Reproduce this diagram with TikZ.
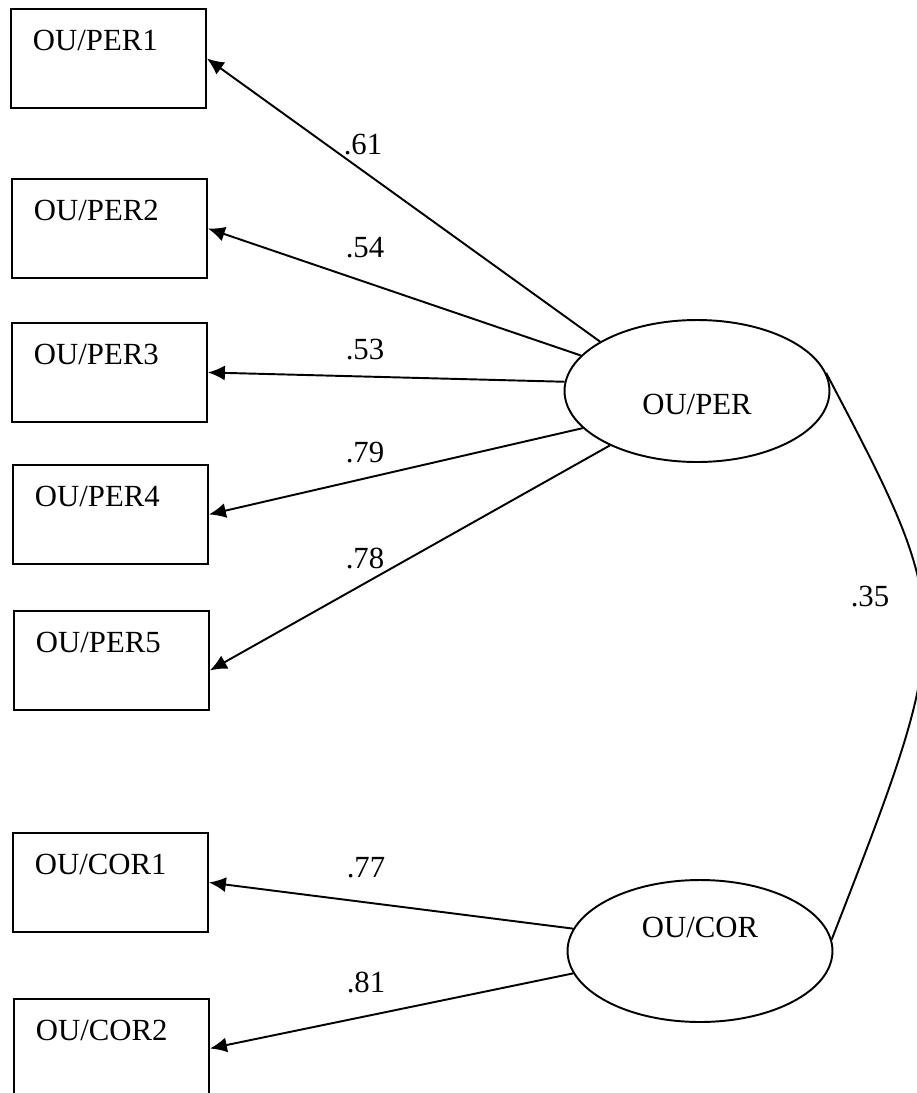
\documentclass[tikz,border=0pt]{standalone}
\usepackage{fontspec}
\setmainfont{Liberation Serif}
\usetikzlibrary{arrows.meta,shapes.geometric}

\tikzset{
  obs/.style={draw, line width=1.1pt, anchor=north west, align=left,
    text width=3.02cm, inner xsep=0.44cm, inner ysep=0.12cm,
    text height=0.72cm, text depth=1.02cm, font=\fontsize{17.5}{21}\selectfont},
  latent/.style={draw, ellipse, line width=1.1pt, minimum width=5.3cm,
    minimum height=2.84cm, inner sep=0pt},
  loading/.style={line width=1.1pt, -{Latex[length=0.34cm,width=0.3cm]}},
  coef/.style={font=\fontsize{17.5}{21}\selectfont}
}

\begin{document}
\begin{tikzpicture}[x=0.02cm, y=-0.02cm]
    \useasboundingbox (0,0) rectangle (917,1093);

    % indicators
    \node[obs] (per1) at (10,8) {OU/PER1};
    \node[obs] (per2) at (11,178) {OU/PER2};
    \node[obs] (per3) at (11,322) {OU/PER3};
    \node[obs] (per4) at (12,464) {OU/PER4};
    \node[obs] (per5) at (13,610) {OU/PER5};
    \node[obs] (cor1) at (12,832) {OU/COR1};
    \node[obs] (cor2) at (13,998) {OU/COR2};

    % factors
    \node[latent, label={[coef, yshift=-0.26cm]center:OU/PER}] (per) at (697,391) {};
    \node[latent, label={[coef, yshift=0.48cm]center:OU/COR}] (cor) at (700,951) {};

    % loadings
    \draw[loading] (per.153) -- (per1.east);
    \draw[loading] (per.163) -- (per2.east);
    \draw[loading] (per.176) -- (per3.east);
    \draw[loading] (per.198) -- (per4.east);
    \draw[loading] (per.212) -- ([yshift=-0.2cm]per5.east);
    \draw[loading] (cor.170) -- (cor1.east);
    \draw[loading] (cor.190) -- (cor2.east);

    \node[coef] (c61) at (363,145) {.61};
    \node[coef] (c54) at (365,248) {.54};
    \node[coef] (c53) at (365,350) {.53};
    \node[coef] (c79) at (365,453) {.79};
    \node[coef] (c78) at (365,558) {.78};
    \node[coef] (c77) at (366,868) {.77};
    \node[coef] (c81) at (366,982) {.81};

    % correlation
    \draw[line width=1.1pt] (per.8) .. controls (956,620) .. (cor.5);
    \node[coef] (c35) at (870,597) {.35};
\end{tikzpicture}
\end{document}
